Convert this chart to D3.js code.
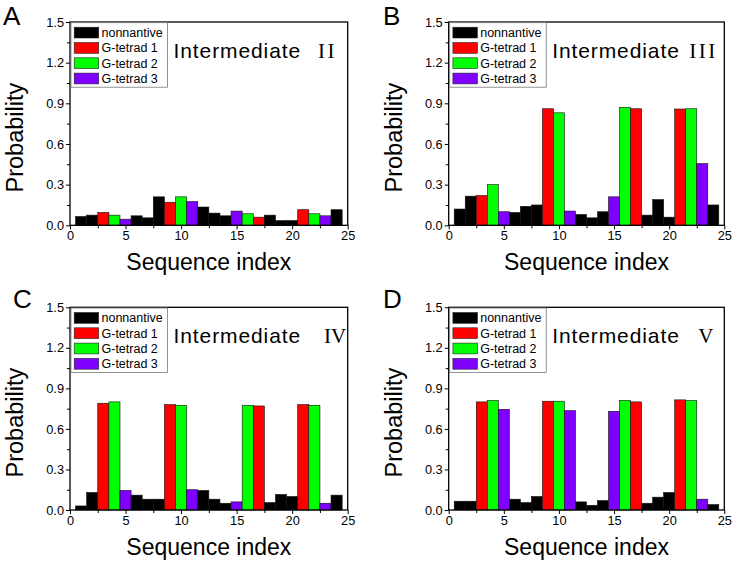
<!DOCTYPE html>
<html><head><meta charset="utf-8">
<script src="https://cdn.jsdelivr.net/npm/d3@7"></script>
<style>
html,body{margin:0;padding:0;background:#fff;}
svg{display:block;font-family:Arial,"Liberation Sans",sans-serif;}
</style></head>
<body><svg id="chart" width="737" height="565"></svg>
<script>
// ---- data ----
const seriesNames = ["nonnantive", "G-tetrad 1", "G-tetrad 2", "G-tetrad 3"];
const seriesColors = ["#000000", "#ff0000", "#00ff00", "#7f00ff"];
const sequenceIndex = [1,2,3,4,5,6,7,8,9,10,11,12,13,14,15,16,17,18,19,20,21,22,23,24];
// series membership of each position (0 = nonnantive, 1..3 = G-tetrad n)
const seriesOf = [0,0,1,2,3,0,0,0,1,2,3,0,0,0,3,2,1,0,0,0,1,2,3,0];
const probII  = [0.065,0.075,0.095,0.075,0.045,0.07,0.055,0.21,0.17,0.21,0.175,0.135,0.09,0.07,0.105,0.085,0.06,0.075,0.035,0.035,0.115,0.085,0.07,0.115];
const probIII = [0.12,0.215,0.22,0.30,0.10,0.095,0.14,0.15,0.86,0.83,0.105,0.08,0.055,0.10,0.21,0.87,0.86,0.075,0.19,0.06,0.858,0.86,0.455,0.15];
const probIV  = [0.03,0.13,0.79,0.80,0.145,0.11,0.08,0.08,0.78,0.775,0.15,0.145,0.08,0.05,0.06,0.775,0.77,0.055,0.115,0.10,0.78,0.775,0.05,0.11];
const probV   = [0.065,0.065,0.80,0.81,0.745,0.08,0.055,0.10,0.805,0.805,0.735,0.06,0.035,0.07,0.73,0.81,0.80,0.05,0.095,0.13,0.815,0.81,0.08,0.04];
const yTickValues = [0, 0.3, 0.6, 0.9, 1.2, 1.5];
const xTickValues = [0, 5, 10, 15, 20, 25];
const panelLetters = ["A", "B", "C", "D"];
const stageNumerals = ["II", "III", "IV", "V"];

const panels = [
  {letter: panelLetters[0], numeral: stageNumerals[0], values: probII,  x0: 70,    x1: 347.7, y0: 22,    y1: 225.3, lx: 3,   ly: 25,  nx: 248,   ns: 2.5},
  {letter: panelLetters[1], numeral: stageNumerals[1], values: probIII, x0: 448.7, x1: 724.3, y0: 22,    y1: 225.3, lx: 383, ly: 25,  nx: 240.5, ns: 2.5},
  {letter: panelLetters[2], numeral: stageNumerals[2], values: probIV,  x0: 70,    x1: 347.7, y0: 307.3, y1: 510,   lx: 13,  ly: 308, nx: 254,   ns: 0},
  {letter: panelLetters[3], numeral: stageNumerals[3], values: probV,   x0: 448.7, x1: 724.3, y0: 307.3, y1: 510,   lx: 383, ly: 308, nx: 249.6, ns: 0}
];

const svg = d3.select("#chart");

panels.forEach(p => {
  const g = svg.append("g");
  const x = d3.scaleLinear().domain([0, 25]).range([p.x0, p.x1]);
  const y = d3.scaleLinear().domain([0, 1.5]).range([p.y1, p.y0]);

  // bars
  g.append("g").selectAll("rect").data(sequenceIndex).join("rect")
    .attr("x", (d) => x(d - 0.5))
    .attr("width", (d) => x(d + 0.5) - x(d - 0.5))
    .attr("y", (d, i) => y(p.values[i]))
    .attr("height", (d, i) => y(0) - y(p.values[i]))
    .attr("fill", (d, i) => seriesColors[seriesOf[i]])
    .attr("stroke", "#111").attr("stroke-width", 0.6);

  // axes
  const xAxis = d3.axisBottom(x).tickValues(xTickValues).tickSize(4).tickPadding(2).tickFormat(d3.format("d"));
  const xMinor = d3.axisBottom(x).tickValues([2.5, 7.5, 12.5, 17.5, 22.5]).tickSize(3).tickFormat("");
  const yAxis = d3.axisLeft(y).tickValues(yTickValues).tickSize(4).tickPadding(2).tickFormat(d3.format(".1f"));
  const yMinor = d3.axisLeft(y).tickValues([0.15, 0.45, 0.75, 1.05, 1.35]).tickSize(3).tickFormat("");

  const gx = g.append("g").attr("transform", `translate(0,${p.y1})`).call(xAxis);
  g.append("g").attr("transform", `translate(0,${p.y1})`).call(xMinor);
  const gy = g.append("g").attr("transform", `translate(${p.x0},0)`).call(yAxis);
  g.append("g").attr("transform", `translate(${p.x0},0)`).call(yMinor);
  g.selectAll(".domain").remove();
  g.selectAll(".tick line").attr("stroke", "#000").attr("stroke-width", 1);
  gx.selectAll("text").attr("font-size", 12.8).attr("fill", "#000").attr("font-family", "Arial, 'Liberation Sans', sans-serif");
  gy.selectAll("text").attr("font-size", 12.8).attr("fill", "#000").attr("font-family", "Arial, 'Liberation Sans', sans-serif");

  // frame
  g.append("rect").attr("x", p.x0).attr("y", p.y0)
    .attr("width", p.x1 - p.x0).attr("height", p.y1 - p.y0)
    .attr("fill", "none").attr("stroke", "#000").attr("stroke-width", 1.3);

  // legend
  const lg = g.append("g").attr("transform", `translate(${p.x0 + 1},${p.y0 + 0.7})`);
  lg.append("rect").attr("x", 0).attr("y", 0).attr("width", 96.5).attr("height", 64.5)
    .attr("fill", "#fff").attr("stroke", "#777").attr("stroke-width", 0.8);
  seriesNames.forEach((name, k) => {
    const ry = 4.5 + k * 15.3;
    lg.append("rect").attr("x", 3.2).attr("y", ry).attr("width", 24.5).attr("height", 10.8)
      .attr("fill", seriesColors[k]).attr("stroke", "#222").attr("stroke-width", 0.6);
    lg.append("text").attr("x", 30.5).attr("y", ry + 9.8).attr("font-size", 12.5)
      .attr("fill", "#000").text(name);
  });

  // title
  g.append("text").attr("x", p.x0 + 103.5).attr("y", p.y0 + 36)
    .attr("font-size", 21).attr("letter-spacing", "0.9px").attr("fill", "#000").text("Intermediate");
  g.append("text").attr("x", p.x0 + p.nx).attr("y", p.y0 + 36)
    .attr("font-family", "'Liberation Serif','Times New Roman',serif")
    .attr("font-size", 21).attr("letter-spacing", `${p.ns}px`).attr("fill", "#000").text(p.numeral);

  // axis titles
  g.append("text").attr("x", (p.x0 + p.x1) / 2).attr("y", p.y1 + 45)
    .attr("text-anchor", "middle").attr("font-size", 23).attr("fill", "#000").text("Sequence index");
  g.append("text").attr("transform", `translate(${p.x0 - 47},${(p.y0 + p.y1) / 2 + 14}) rotate(-90)`)
    .attr("text-anchor", "middle").attr("font-size", 23.5).attr("fill", "#000").text("Probability");

  // panel letter
  g.append("text").attr("x", p.lx).attr("y", p.ly).attr("font-size", 26)
    .attr("fill", "#000").text(p.letter);
});
</script>
</body></html>
